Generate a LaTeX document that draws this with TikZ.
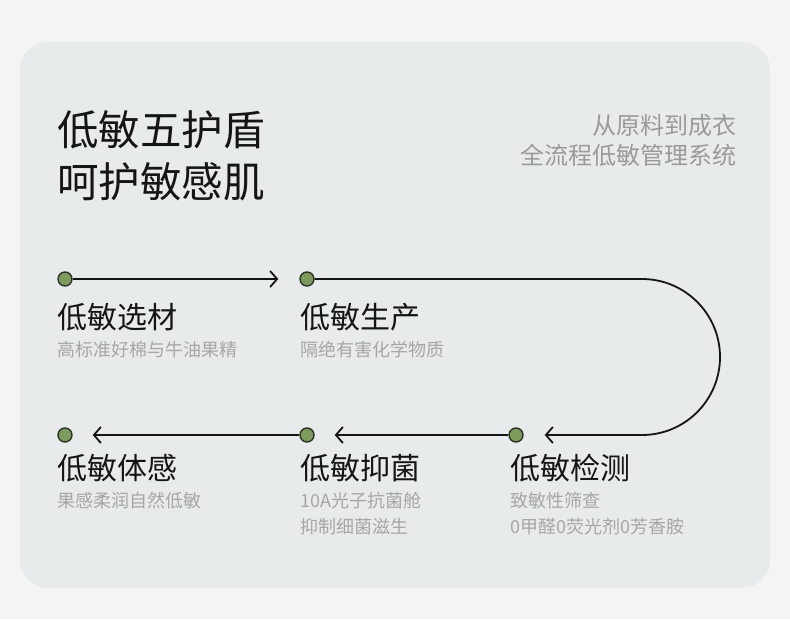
\documentclass[tikz,border=0pt]{standalone}
\usepackage{fontspec}
\setmainfont{Noto Sans CJK SC}
\usetikzlibrary{arrows.meta, positioning, calc}
\definecolor{pageBg}{HTML}{F4F4F4}
\definecolor{panelBg}{HTML}{E8EBEC}
\definecolor{ink}{HTML}{151515}
\definecolor{subGray}{HTML}{A6A6A6}
\definecolor{sideGray}{HTML}{9A9A9A}
\definecolor{dotGreen}{HTML}{7E9B5E}
\definecolor{dotEdge}{HTML}{2E3329}
\tikzset{
  ttl/.style={font=\fontsize{41.5}{53}\selectfont, text=ink, anchor=west, inner sep=0pt},
  side/.style={font=\fontsize{24}{30}\selectfont, text=sideGray, anchor=east, inner sep=0pt},
  stepname/.style={font=\fontsize{30}{36}\selectfont, text=ink, anchor=west, inner sep=0pt},
  stepnote/.style={font=\fontsize{18}{26}\selectfont, text=subGray, anchor=north west, align=left, inner sep=0pt},
  dot/.style={circle, draw=dotEdge, fill=dotGreen, line width=1.4pt, minimum size=14pt, inner sep=0pt},
  flow/.style={draw=ink, line width=1.8pt, -{Straight Barb[length=7pt, width=16pt]}},
}
\def\yT{279}
\def\yB{435}
\def\xA{65}
\def\xB{307}
\def\xC{516}

\begin{document}
\begin{tikzpicture}[x=1pt, y=-1pt]

% ── page and panel ───────────────────────────────────────────────────────────
\useasboundingbox (0,0) rectangle (790,619);
\fill[pageBg] (0,0) rectangle (790,619);
\fill[panelBg, rounded corners=28pt] (20,42) rectangle (770,588);

% ── heading ──────────────────────────────────────────────────────────────────
\node[ttl] (title1) at (57,130) {低敏五护盾};
\node[ttl] (title2) at (57,182) {呵护敏感肌};
\node[side] (side1) at (737,125) {从原料到成衣};
\node[side] (side2) at (737,155) {全流程低敏管理系统};

% ── step dots ────────────────────────────────────────────────────────────────
\node[dot] (d1) at (\xA,\yT) {};
\node[dot] (d2) at (\xB,\yT) {};
\node[dot] (d5) at (\xC,\yB) {};
\node[dot] (d4) at (\xB,\yB) {};
\node[dot] (d3) at (\xA,\yB) {};
\coordinate (bend) at (642,\yT);

% ── connectors ───────────────────────────────────────────────────────────────
\draw[flow, shorten >=21pt] (d1) -- (d2);
\draw[flow, shorten >=21pt] (d2) -- (bend)
  arc[start angle=90, end angle=-90, radius=78pt] -- (d5);
\draw[flow, shorten >=20pt] (d5) -- (d4);
\draw[flow, shorten >=20pt] (d4) -- (d3);

% ── step labels ──────────────────────────────────────────────────────────────
\node[stepname] (s1) at (57,317) {低敏选材};
\node[stepnote] (n1) at (57,341) {高标准好棉与牛油果精};
\node[stepname] (s2) at (300,317) {低敏生产};
\node[stepnote] (n2) at (300,341) {隔绝有害化学物质};
\node[stepname] (s5) at (57,468) {低敏体感};
\node[stepnote] (n5) at (57,492) {果感柔润自然低敏};
\node[stepname] (s4) at (300,468) {低敏抑菌};
\node[stepnote] (n4) at (300,492) {10A光子抗菌舱\\抑制细菌滋生};
\node[stepname] (s3) at (510,468) {低敏检测};
\node[stepnote] (n3) at (510,492) {致敏性筛查\\0甲醛0荧光剂0芳香胺};

\end{tikzpicture}
\end{document}
